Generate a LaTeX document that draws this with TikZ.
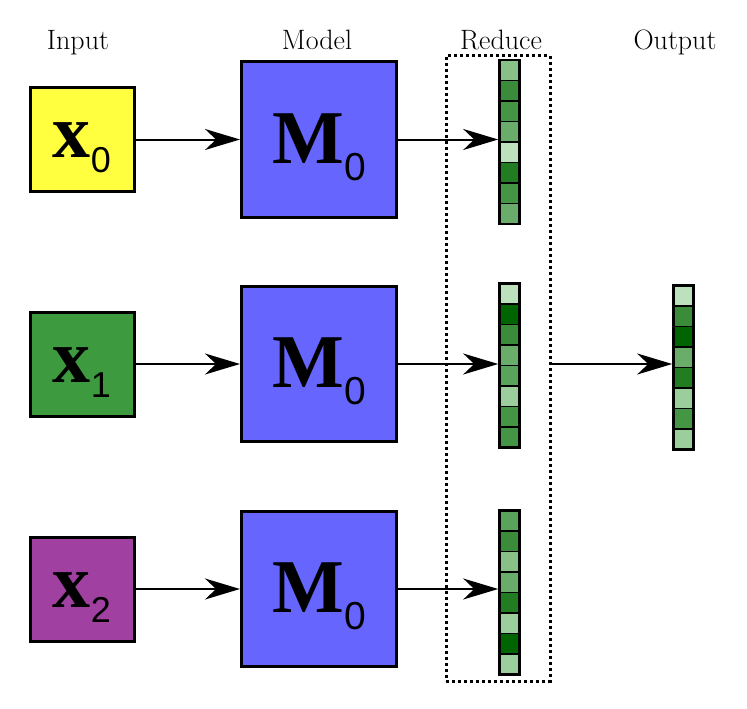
\documentclass[tikz,border=0pt]{standalone}
\usepackage{fontspec}
\usetikzlibrary{arrows.meta,calc}
\newfontfamily\bigserif{Liberation Serif}
\newfontfamily\subsans{Liberation Sans}
\definecolor{inyellow}{HTML}{FFFF40}
\definecolor{ingreen}{HTML}{3E9A3E}
\definecolor{inpurple}{HTML}{A040A0}
\definecolor{mblue}{HTML}{6666FF}
\definecolor{ga}{HTML}{BDE0BD}
\definecolor{gb}{HTML}{9CCD9C}
\definecolor{gc}{HTML}{88C088}
\definecolor{gd}{HTML}{6AAD6A}
\definecolor{ge}{HTML}{5AA35A}
\definecolor{gf}{HTML}{449544}
\definecolor{gg}{HTML}{3A8C3A}
\definecolor{gh}{HTML}{227C22}
\definecolor{gi}{HTML}{006400}
\newcommand{\xlab}[1]{\raisebox{-18pt}[30pt][30pt]{{\bigserif\bfseries\fontsize{76}{76}\selectfont x}{\subsans\fontsize{36}{36}\selectfont\raisebox{-15pt}{#1}}}}
\newcommand{\mlab}[1]{\raisebox{-23.5pt}[30pt][30pt]{{\bigserif\bfseries\fontsize{76}{76}\selectfont M}{\subsans\fontsize{39}{39}\selectfont\raisebox{-17pt}{#1}}}}
\tikzset{
  inbox/.style={draw=black, line width=3pt, minimum size=104pt, inner sep=0pt},
  mbox/.style={draw=black, line width=3pt, fill=mblue, minimum size=155pt, inner sep=0pt},
  cell/.style={draw=black, line width=1.8pt, minimum width=20pt, minimum height=20.5pt, inner sep=0pt},
  vecframe/.style={draw=black, line width=2.6pt, minimum width=20pt, minimum height=164pt, inner sep=0pt},
  arr/.style={line width=2pt, -{Stealth[length=35pt,width=21pt,inset=11pt]}},
  redbox/.style={draw=black, line width=3pt, dash pattern=on 3pt off 3pt, minimum width=104pt, minimum height=625pt, inner sep=0pt},
  head/.style={font=\fontsize{28}{28}\selectfont, anchor=base, inner sep=0pt}
}
\newcommand{\cellvec}[4]{%
  \foreach \c [count=\i from 0] in {#4} {
    \node[cell, fill=\c] (#1-\i) at (#2, #3-82+\i*20.5+10.25) {};
  }
  \node[vecframe] (#1) at (#2,#3) {};
}
\begin{document}
\begin{tikzpicture}[x=1pt,y=-1pt]
\useasboundingbox (0,0) rectangle (747,709);
% headings
\node[head] (hin) at (78,49) {Input};
\node[head] (hmod) at (317,49) {Model};
\node[head] (hred) at (501,49) {Reduce};
\node[head] (hout) at (675,49) {Output};
% reduce frame
\node[redbox] (red) at (498,368.5) {};
% inputs
\node[inbox, fill=inyellow] (x0) at (82,139.5) {\xlab{0}};
\node[inbox, fill=ingreen] (x1) at (82,364) {\xlab{1}};
\node[inbox, fill=inpurple] (x2) at (82,589) {\xlab{2}};
% models
\node[mbox] (m0) at (319,139.5) {\mlab{0}};
\node[mbox] (m1) at (319,364) {\mlab{0}};
\node[mbox] (m2) at (319,589) {\mlab{0}};
% vectors
\cellvec{v0}{509.5}{142}{gc,gg,gf,gd,ga,gh,gf,gd}
\cellvec{v1}{509.5}{365.5}{ga,gi,gg,gd,ge,gb,gf,gf}
\cellvec{v2}{509.5}{592.5}{ge,gg,gc,gd,gh,gb,gi,gb}
\cellvec{out}{683.5}{367.5}{ga,gg,gi,gd,gh,gb,gf,gb}
% arrows
\draw[arr] (x0) -- (m0);
\draw[arr] (x1) -- (m1);
\draw[arr] (x2) -- (m2);
\draw[arr] (m0.east) -- (m0.east -| v0.west);
\draw[arr] (m1.east) -- (m1.east -| v1.west);
\draw[arr] (m2.east) -- (m2.east -| v2.west);
\draw[arr] (red.east |- m1.east) -- (m1.east -| out.west);
\end{tikzpicture}
\end{document}
